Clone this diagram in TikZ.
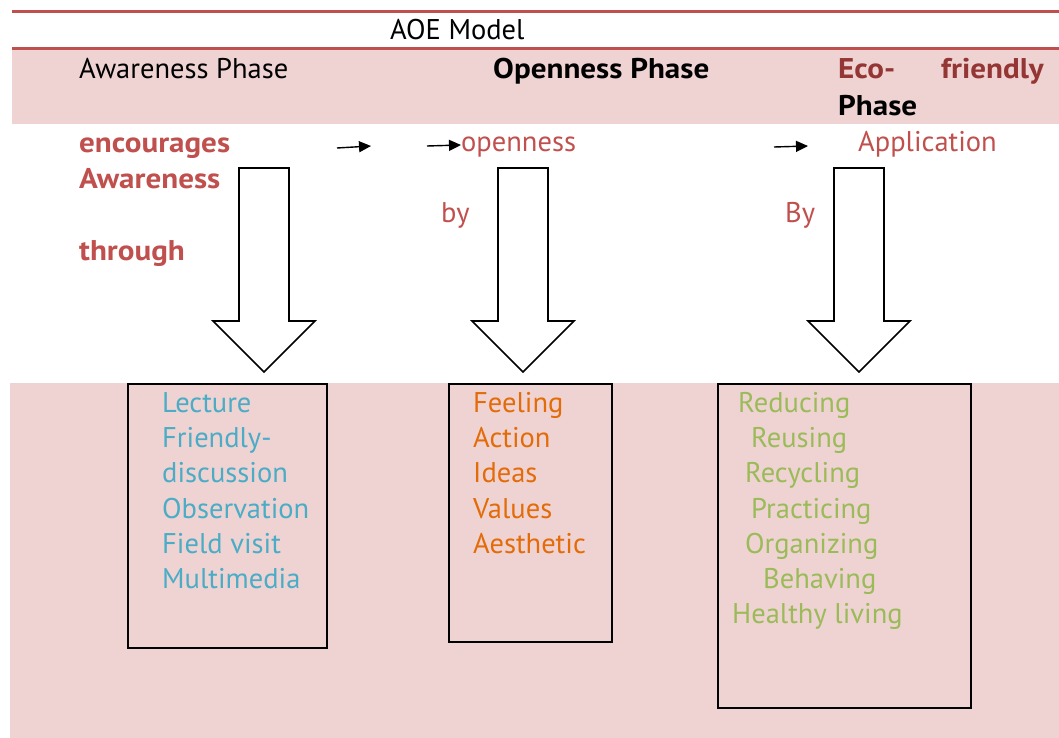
\documentclass[tikz,border=0pt]{standalone}
\usepackage{fontspec}
\setmainfont{PT Sans}[BoldFeatures={FakeStretch=1.09}]
\usetikzlibrary{arrows.meta}
\definecolor{aoered}{HTML}{C0504D}
\definecolor{aoedark}{HTML}{943634}
\definecolor{pinkbg}{HTML}{EFD3D3}
\definecolor{aoeblue}{HTML}{4BACC6}
\definecolor{aoeorange}{HTML}{E36C09}
\definecolor{aoegreen}{HTML}{9BBB59}
\newcommand\aoefs{\fontsize{28.5}{34}\selectfont}
\begin{document}
\begin{tikzpicture}[x=1pt,y=-1pt,
  lbl/.style={anchor=base west, inner sep=0pt, font=\aoefs},
  rule/.style={aoered, line width=3pt},
  smallarrow/.style={line width=1.4pt, -{Triangle[length=12pt,width=11pt]}},
  listbox/.style={draw=black, line width=1.6pt, anchor=north west, inner sep=0pt},
  pics/blockdown/.style={code={
    \draw[line width=1.6pt, fill=white, line join=miter]
      (-25,0) -- (25,0) -- (25,153) -- (51,153) -- (0,204) -- (-51,153) -- (-25,153) -- cycle;}}
]
\useasboundingbox (0,0) rectangle (1059,738);
% bands
\fill[pinkbg] (12,50) rectangle (1059,124);
\fill[pinkbg] (10,383) rectangle (1059,738);
\draw[rule] (12,12) -- (1059,12);
\draw[rule] (12,49) -- (1059,49);
% title
\node[lbl] (title) at (390,40) {AOE Model};
% phase headers
\node[lbl] (ph1) at (79,79) {Awareness Phase};
\node[lbl, font=\aoefs\bfseries] (ph2) at (493,79) {Openness Phase};
\node[lbl, font=\aoefs\bfseries, text=aoedark] (ph3a) at (838,79) {Eco-};
\node[lbl, font=\aoefs\bfseries, text=aoedark, anchor=base east] (ph3b) at (1044,79) {friendly};
\node[lbl, font=\aoefs\bfseries] (ph3c) at (838,116) {Phase};
% row 2 texts
\node[lbl, font=\aoefs\bfseries, text=aoered] (enc) at (79,153) {encourages};
\node[lbl, font=\aoefs\bfseries, text=aoered] (awa) at (79,189) {Awareness};
\node[lbl, font=\aoefs\bfseries, text=aoered] (thr) at (79,260) {through};
\node[lbl, text=aoered] (open) at (461,152) {openness};
\node[lbl, text=aoered] (appl) at (858,152) {Application};
\node[lbl, text=aoered] (by1) at (441,222) {by};
\node[lbl, text=aoered] (by2) at (785,222) {By};
% small arrows
\coordinate (s1a) at (337,148); \coordinate (s1b) at (371,146);
\coordinate (s2a) at (427,146); \coordinate (s2b) at (461,145);
\coordinate (s3a) at (774,147); \coordinate (s3b) at (808,146);
\draw[smallarrow] (s1a) -- (s1b);
\draw[smallarrow] (s2a) -- (open.west |- s2b);
\draw[smallarrow] (s3a) -- (s3b);
% block arrows
\pic at (264,168) {blockdown};
\pic at (523,168) {blockdown};
\pic at (859,168) {blockdown};
% boxes
\node[listbox, minimum width=199pt, minimum height=264pt] (box1) at (127,383) {};
\node[listbox, minimum width=163pt, minimum height=258pt] (box2) at (448,383) {};
\node[listbox, minimum width=253pt, minimum height=324pt] (box3) at (717,383) {};
% box 1 items
\begin{scope}[every node/.style={lbl, text=aoeblue}]
\node (l1) at (162,412) {Lecture};
\node (l2) at (162,447) {Friendly-};
\node (l3) at (162,482) {discussion};
\node (l4) at (162,518) {Observation};
\node (l5) at (162,553) {Field visit};
\node (l6) at (162,588) {Multimedia};
\end{scope}
% box 2 items
\begin{scope}[every node/.style={lbl, text=aoeorange}]
\node (o1) at (473,412) {Feeling};
\node (o2) at (473,447) {Action};
\node (o3) at (473,482) {Ideas};
\node (o4) at (473,518) {Values};
\node (o5) at (473,553) {Aesthetic};
\end{scope}
% box 3 items
\begin{scope}[every node/.style={lbl, text=aoegreen}]
\node (g1) at (738,412) {Reducing};
\node (g2) at (751,447) {Reusing};
\node (g3) at (745,482) {Recycling};
\node (g4) at (751,518) {Practicing};
\node (g5) at (745,553) {Organizing};
\node (g6) at (763,588) {Behaving};
\node (g7) at (732,623) {Healthy living};
\end{scope}
\end{tikzpicture}
\end{document}
